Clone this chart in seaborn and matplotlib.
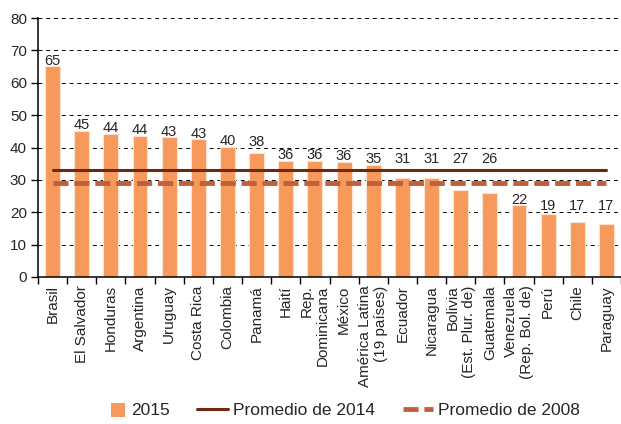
import matplotlib
matplotlib.use("Agg")
import matplotlib.pyplot as plt
import seaborn as sns
import numpy as np
import pandas as pd
from matplotlib.lines import Line2D
from matplotlib.patches import Rectangle
from matplotlib.legend_handler import HandlerPatch

countries = [
    "Brasil", "El Salvador", "Honduras", "Argentina", "Uruguay", "Costa Rica",
    "Colombia", "Panamá", "Haití", "Rep.\nDominicana", "México",
    "América Latina\n(19 países)", "Ecuador", "Nicaragua", "Bolivia\n(Est. Plur. de)",
    "Guatemala", "Venezuela\n(Rep. Bol. de)", "Perú", "Chile", "Paraguay",
]
values_2015 = [65.1, 45.2, 44.3, 43.7, 43.1, 42.5, 40.2, 38.4, 35.8, 35.8,
               35.5, 34.6, 30.6, 30.6, 26.9, 25.8, 22.1, 19.4, 17.1, 16.5]
value_labels = ["65", "45", "44", "44", "43", "43", "40", "38", "36", "36",
                "36", "35", "31", "31", "27", "26", "22", "19", "17", "17"]
avg_2014 = 33.2
avg_2008 = 28.9
y_ticks = [0, 10, 20, 30, 40, 50, 60, 70, 80]

bar_color = "#F7995A"
color_2014 = "#6B2A0F"
color_2008 = "#C0603A"

sns.set_style("white")
plt.rcParams["font.family"] = ["Liberation Sans", "DejaVu Sans"]
plt.rcParams["font.size"] = 11

df = pd.DataFrame({"pais": countries, "valor": values_2015})

fig = plt.figure(figsize=(6.21, 4.24), dpi=100)
ax = fig.add_axes([38 / 621, 1 - 277 / 424, 1 - 38 / 621, (277 - 18) / 424])

sns.barplot(data=df, x="pais", y="valor", color=bar_color, saturation=1,
            width=0.51, edgecolor="#FCE3D2", linewidth=0.8, ax=ax, zorder=2)

n = len(countries)
ax.plot([0, n - 1], [avg_2014, avg_2014], color=color_2014, lw=2.2, zorder=3)
ax.plot([0, n - 1], [avg_2008, avg_2008], color=color_2008, lw=3.5,
        dashes=(3.1, 1.2), zorder=3)

# value labels: kept clear of gridlines and of the two average lines
text_h = 3.4
for bar, lab in zip(ax.patches, value_labels):
    top = bar.get_height()
    y = top + 0.5
    if top + text_h > avg_2008 - 1 and top < avg_2014 + 1:
        y = avg_2014 + 2.0
    else:
        for g in y_ticks:
            if top < g < y + text_h:
                y = g + 0.6
    ax.text(bar.get_x() + bar.get_width() / 2, y, lab, ha="center", va="baseline",
            fontsize=10.5, zorder=4)

ax.set_xlim(-0.5, (621 - 38) / 29.4 - 0.5)
ax.set_ylim(0, 80)
ax.set_yticks(y_ticks)
ax.yaxis.grid(True, color="black", linestyle=(0, (4, 4)), linewidth=0.7)
ax.set_axisbelow(True)
ax.tick_params(axis="y", length=5, width=1, color="black", pad=3, labelsize=11, left=True)

ax.set_xticks(np.arange(n))
ax.set_xticklabels(countries, rotation=90, ha="center", va="top",
                   multialignment="right", fontsize=11)
ax.tick_params(axis="x", which="major", length=0, pad=6)
ax.set_xticks(np.arange(n + 1) - 0.5, minor=True)
ax.tick_params(axis="x", which="minor", length=5, width=1, color="black", bottom=True)
ax.set_xlabel("")
ax.set_ylabel("")

for side in ["top", "right"]:
    ax.spines[side].set_visible(False)
for side in ["left", "bottom"]:
    ax.spines[side].set_color("black")
    ax.spines[side].set_linewidth(1.1)


def square_patch(legend, orig_handle, xdescent, ydescent, width, height, fontsize):
    side = height * 1.15
    return Rectangle((width - side - xdescent, -ydescent - 0.1 * height), side, side)


handles = [
    Rectangle((0, 0), 1, 1, facecolor=bar_color, edgecolor="none"),
    Line2D([], [], color=color_2014, lw=2.2),
    Line2D([], [], color=color_2008, lw=3.5, dashes=(3.1, 1.2)),
]
fig.legend(handles, ["2015", "Promedio de 2014", "Promedio de 2008"],
           loc="center", bbox_to_anchor=(0.5435, 0.031), ncol=3, frameon=False,
           fontsize=12.5, handlelength=1.75, handletextpad=0.3, columnspacing=1.6,
           handler_map={Rectangle: HandlerPatch(patch_func=square_patch)})

fig.savefig("out.png", dpi=100)
plt.close(fig)
